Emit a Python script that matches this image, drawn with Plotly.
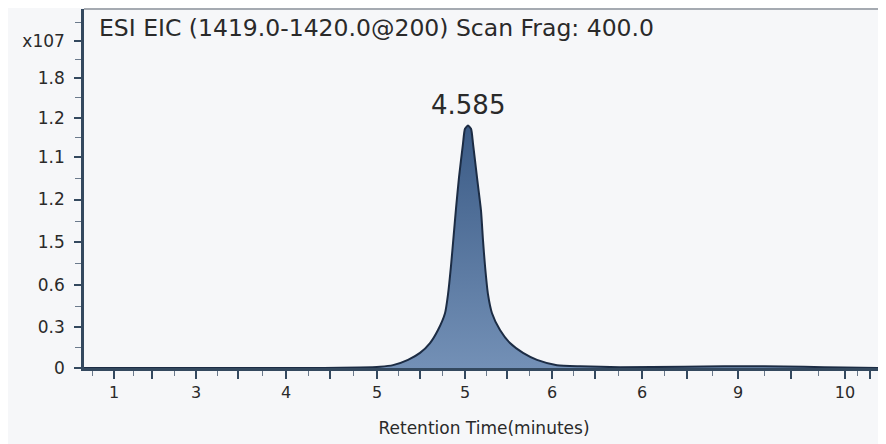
import plotly.graph_objects as go

# ---- data (retention time axis units, intensity axis units) ----
times = [0.0, 1.0, 2.0, 3.0, 3.45, 3.70, 3.8625, 4.05, 4.2, 4.325, 4.425, 4.5125, 4.55,
         4.5875, 4.619, 4.65, 4.6875, 4.7375, 4.7625, 4.8, 4.8375, 4.8625, 4.9125, 4.9625,
         4.9875, 5.0125, 5.05, 5.1, 5.2, 5.325, 5.4875, 5.6625, 5.9125, 6.2, 6.7,
         7.5, 8.0, 8.5, 9.0, 9.5, 10.0]
intensity = [0.0, 0.0, 0.0, 0.0, 0.01, 0.03, 0.07, 0.20, 0.37, 0.61, 0.93, 1.34, 1.8,
             2.5, 3.2, 3.9, 4.66, 5.49, 5.85, 5.93, 5.85, 5.49, 4.66, 3.85,
             3.12, 2.5, 1.8, 1.34, 0.93, 0.61, 0.37, 0.20, 0.07, 0.04, 0.02,
             0.03, 0.04, 0.04, 0.03, 0.01, 0.0]

peak_label = "4.585"
title_text = "ESI EIC (1419.0-1420.0@200) Scan Frag: 400.0"
x_title = "Retention Time(minutes)"

x_tick_vals = [0.375, 0.85, 1.4, 1.925, 2.525, 3.075, 3.6625, 4.2, 4.7625, 5.2875,
               5.85, 6.3875, 6.975, 7.5375, 8.175, 8.8375, 9.5125, 9.825]
x_tick_text = ["1", "", "3", "", "4", "", "5", "", "5", "", "6", "", "6", "", "9", "", "10", ""]

y_tick_vals = [0, 1.0, 2.02, 3.07, 4.12, 5.15, 6.12, 7.1, 8.0]
y_tick_text = ["0", "0.3", "0.6", "1.5", "1.2", "1.1", "1.2", "1.8", "x107"]

x_minor = [(a + b) / 2 for a, b in zip(x_tick_vals[:-1], x_tick_vals[1:])] + [0.1]
y_minor = [(a + b) / 2 for a, b in zip(y_tick_vals[:-1], y_tick_vals[1:])] + [8.45]

FONT = "DejaVu Sans"
AX = "#34495f"
TXT = "#2a2a2a"

fig = go.Figure()
fig.add_trace(go.Scatter(
    x=times, y=intensity, mode="lines",
    line=dict(color="#1c2c44", width=2, shape="spline", smoothing=0.6),
    fill="tozeroy",
    fillgradient=dict(type="vertical", start=0, stop=6,
                      colorscale=[[0, "#7390b6"], [1, "#3a5a85"]]),
    hoverinfo="skip", showlegend=False,
))

pk = intensity.index(max(intensity))
fig.add_annotation(x=times[pk], y=intensity[pk] + 0.5, text=peak_label,
                   showarrow=False, font=dict(family=FONT, size=26, color=TXT),
                   xref="x", yref="y")
fig.add_annotation(x=0.016, y=0.947, xref="paper", yref="paper", xanchor="left",
                   yanchor="middle", text=title_text, showarrow=False,
                   font=dict(family=FONT, size=23.5, color=TXT))

# frame top/right
fig.add_shape(type="line", xref="paper", yref="paper", x0=0, x1=1, y0=1, y1=1,
              line=dict(color="#8a9099", width=1.5))
fig.add_shape(type="line", xref="paper", yref="paper", x0=1, x1=1, y0=0, y1=1,
              line=dict(color="#8a9099", width=1.5))

fig.update_layout(
    width=878, height=436,
    margin=dict(l=76, r=2, t=1, b=76),
    paper_bgcolor="#f6f7f9", plot_bgcolor="#f6f7f9",
    font=dict(family=FONT, color=TXT),
    xaxis=dict(range=[0, 10], showgrid=False, zeroline=False, automargin=False,
               showline=True, linecolor=AX, linewidth=2.5,
               tickmode="array", tickvals=x_tick_vals, ticktext=x_tick_text,
               ticks="outside", ticklen=8, tickwidth=1.5, tickcolor=AX,
               tickfont=dict(size=16, family=FONT, color=TXT),
               minor=dict(tickvals=x_minor, ticks="outside", ticklen=5,
                          tickwidth=1, tickcolor="#6b7a8c"),
               title=dict(text=x_title, font=dict(size=17, family=FONT, color=TXT),
                          standoff=22)),
    yaxis=dict(range=[0, 8.78], showgrid=False, zeroline=False, automargin=False,
               showline=True, linecolor=AX, linewidth=2.5,
               tickmode="array", tickvals=y_tick_vals, ticktext=y_tick_text,
               ticks="outside", ticklen=7, tickwidth=1.5, tickcolor=AX,
               tickfont=dict(size=17, family=FONT, color=TXT),
               minor=dict(tickvals=y_minor, ticks="outside", ticklen=6,
                          tickwidth=1, tickcolor="#6b7a8c"),
               ticklabelstandoff=6),
)

fig.write_html("out.html")
